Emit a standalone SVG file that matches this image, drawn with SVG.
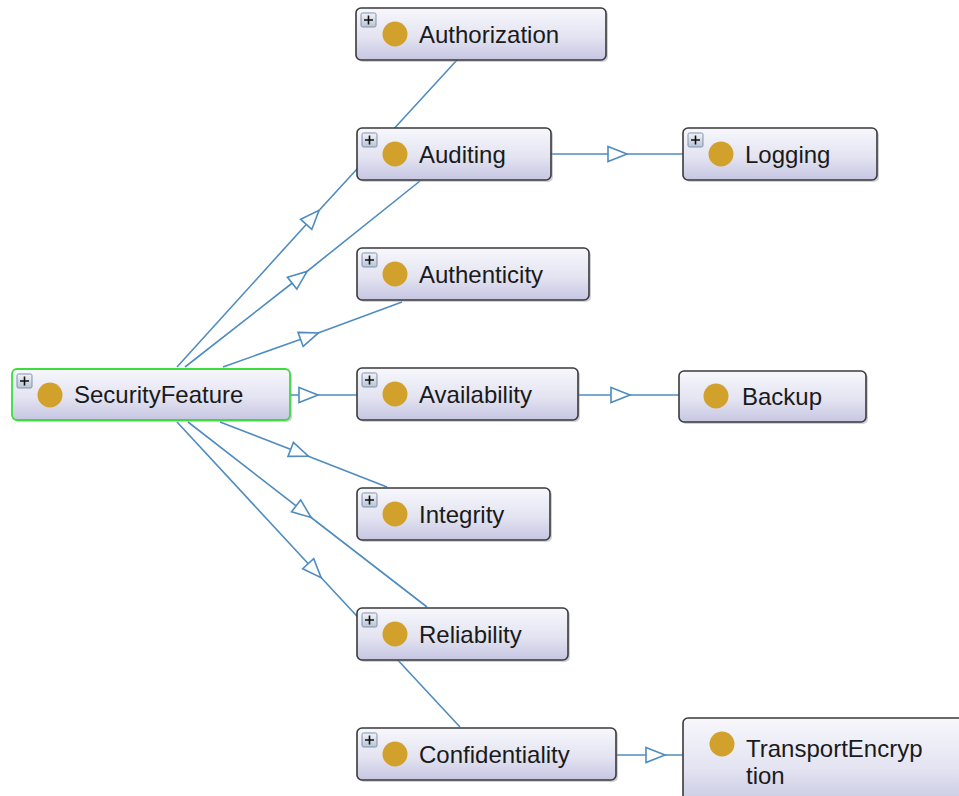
<svg xmlns="http://www.w3.org/2000/svg" width="959" height="796" viewBox="0 0 959 796">
  <defs>
    <linearGradient id="nodeFill" x1="0" y1="0" x2="0" y2="1">
      <stop offset="0" stop-color="#f7f7fc"/>
      <stop offset="0.55" stop-color="#e4e4f2"/>
      <stop offset="1" stop-color="#c6c6e2"/>
    </linearGradient>
    <linearGradient id="plusFill" x1="0" y1="0" x2="0" y2="1">
      <stop offset="0" stop-color="#f2f4f8"/>
      <stop offset="1" stop-color="#b8c4d4"/>
    </linearGradient>
    <marker id="tri" markerUnits="userSpaceOnUse" markerWidth="24" markerHeight="20" viewBox="-2 -9 24 18" refX="10" refY="0" orient="auto">
      <path d="M0,-7.5 L19,0 L0,7.5 Z" fill="#ffffff" stroke="#4f8cc0" stroke-width="1.6" stroke-linejoin="miter"/>
    </marker>
  </defs>
  <style>
    .edge { fill: none; stroke: #4f8cc0; stroke-width: 1.6; marker-mid: url(#tri); }
    .box { fill: url(#nodeFill); stroke: #3a3a3a; stroke-width: 1.6; }
    .root { stroke: #3ddc3d; stroke-width: 1.8; }
    .shadow { fill: #9a9aaa; opacity: 0.45; }
    .dot { fill: #d2a12c; }
    .plus { fill: url(#plusFill); stroke: #7f93ad; stroke-width: 1; }
    .plusmark { stroke: #111; stroke-width: 1.6; }
    .label { font-family: "Liberation Sans", Arial, sans-serif; font-size: 24px; fill: #1a1a1a; }
  </style>

  <rect width="959" height="796" fill="#ffffff"/>

  <!-- subclass connectors, hollow triangle at the middle of each -->
  <g id="connectors">
    <path class="edge" d="M177,367 L313,217 L457,60"/>
    <path class="edge" d="M185,367 L300,277 L420,181"/>
    <path class="edge" d="M223,367 L310,336 L402,302"/>
    <path class="edge" d="M290,395 L309,395 L357,395"/>
    <path class="edge" d="M220,422 L300,453 L387,487"/>
    <path class="edge" d="M188,422 L304,512 L427,607"/>
    <path class="edge" d="M177,422 L315,571 L460,727"/>
    <path class="edge" d="M551,154 L618,154 L683,154"/>
    <path class="edge" d="M578,395 L621,395 L679,395"/>
    <path class="edge" d="M616,755 L656,755 L683,755"/>
  </g>

  <g id="SecurityFeature">
    <rect class="shadow" x="14" y="371" width="278" height="51" rx="5"/>
    <rect class="box root" x="12" y="369" width="278" height="51" rx="5"/>
    <rect class="plus" x="17" y="374" width="15" height="14" rx="1.5"/>
    <path class="plusmark" d="M20,381 H29 M24.5,376.5 V385.5"/>
    <circle class="dot" cx="50" cy="395" r="12.5"/>
    <text class="label" x="74" y="403">SecurityFeature</text>
  </g>

  <g id="Authorization">
    <rect class="shadow" x="358" y="10" width="250" height="52" rx="5"/>
    <rect class="box" x="356" y="8" width="250" height="52" rx="5"/>
    <rect class="plus" x="361" y="13" width="15" height="14" rx="1.5"/>
    <path class="plusmark" d="M364,20 H373 M368.5,15.5 V24.5"/>
    <circle class="dot" cx="395" cy="34" r="12.5"/>
    <text class="label" x="419" y="43">Authorization</text>
  </g>

  <g id="Auditing">
    <rect class="shadow" x="359" y="130" width="194" height="52" rx="5"/>
    <rect class="box" x="357" y="128" width="194" height="52" rx="5"/>
    <rect class="plus" x="362" y="133" width="15" height="14" rx="1.5"/>
    <path class="plusmark" d="M365,140 H374 M369.5,135.5 V144.5"/>
    <circle class="dot" cx="395" cy="154" r="12.5"/>
    <text class="label" x="419" y="163">Auditing</text>
  </g>

  <g id="Logging">
    <rect class="shadow" x="685" y="130" width="194" height="52" rx="5"/>
    <rect class="box" x="683" y="128" width="194" height="52" rx="5"/>
    <rect class="plus" x="688" y="133" width="15" height="14" rx="1.5"/>
    <path class="plusmark" d="M691,140 H700 M695.5,135.5 V144.5"/>
    <circle class="dot" cx="721" cy="154" r="12.5"/>
    <text class="label" x="745" y="163">Logging</text>
  </g>

  <g id="Authenticity">
    <rect class="shadow" x="359" y="250" width="232" height="52" rx="5"/>
    <rect class="box" x="357" y="248" width="232" height="52" rx="5"/>
    <rect class="plus" x="362" y="253" width="15" height="14" rx="1.5"/>
    <path class="plusmark" d="M365,260 H374 M369.5,255.5 V264.5"/>
    <circle class="dot" cx="395" cy="274" r="12.5"/>
    <text class="label" x="419" y="283">Authenticity</text>
  </g>

  <g id="Availability">
    <rect class="shadow" x="359" y="370" width="221" height="52" rx="5"/>
    <rect class="box" x="357" y="368" width="221" height="52" rx="5"/>
    <rect class="plus" x="362" y="373" width="15" height="14" rx="1.5"/>
    <path class="plusmark" d="M365,380 H374 M369.5,375.5 V384.5"/>
    <circle class="dot" cx="395" cy="394" r="12.5"/>
    <text class="label" x="419" y="403">Availability</text>
  </g>

  <g id="Backup">
    <rect class="shadow" x="681" y="373" width="187" height="51" rx="5"/>
    <rect class="box" x="679" y="371" width="187" height="51" rx="5"/>
    <circle class="dot" cx="716" cy="396" r="12.5"/>
    <text class="label" x="742" y="405">Backup</text>
  </g>

  <g id="Integrity">
    <rect class="shadow" x="359" y="490" width="193" height="52" rx="5"/>
    <rect class="box" x="357" y="488" width="193" height="52" rx="5"/>
    <rect class="plus" x="362" y="493" width="15" height="14" rx="1.5"/>
    <path class="plusmark" d="M365,500 H374 M369.5,495.5 V504.5"/>
    <circle class="dot" cx="395" cy="514" r="12.5"/>
    <text class="label" x="419" y="523">Integrity</text>
  </g>

  <g id="Reliability">
    <rect class="shadow" x="359" y="610" width="211" height="52" rx="5"/>
    <rect class="box" x="357" y="608" width="211" height="52" rx="5"/>
    <rect class="plus" x="362" y="613" width="15" height="14" rx="1.5"/>
    <path class="plusmark" d="M365,620 H374 M369.5,615.5 V624.5"/>
    <circle class="dot" cx="395" cy="634" r="12.5"/>
    <text class="label" x="419" y="643">Reliability</text>
  </g>

  <g id="Confidentiality">
    <rect class="shadow" x="359" y="730" width="259" height="52" rx="5"/>
    <rect class="box" x="357" y="728" width="259" height="52" rx="5"/>
    <rect class="plus" x="362" y="733" width="15" height="14" rx="1.5"/>
    <path class="plusmark" d="M365,740 H374 M369.5,735.5 V744.5"/>
    <circle class="dot" cx="395" cy="754" r="12.5"/>
    <text class="label" x="419" y="763">Confidentiality</text>
  </g>

  <g id="TransportEncryption">
    <rect class="box" x="683" y="718" width="290" height="90" rx="5"/>
    <circle class="dot" cx="722" cy="744" r="12.5"/>
    <text class="label" x="746" y="757">TransportEncryp</text>
    <text class="label" x="746" y="784">tion</text>
  </g>
</svg>
